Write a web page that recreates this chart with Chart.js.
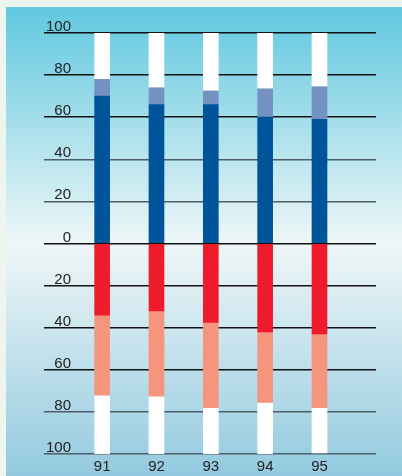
<!DOCTYPE html>
<html>
<head>
<meta charset="utf-8">
<script src="https://cdn.jsdelivr.net/npm/chart.js@4/dist/chart.umd.min.js"></script>
<style>
  html, body { margin: 0; padding: 0; background: #edf5ee; }
  #wrap { width: 402px; height: 476px; }
</style>
</head>
<body>
<div id="wrap"><canvas id="chart" width="402" height="476"></canvas></div>
<script>
// years along the bottom
const years = [91, 92, 93, 94, 95];
// upper half (stacked from 0 upwards)
const darkBlue = [70, 66, 66, 60, 59];
const lightBlue = [8, 8, 6.5, 13.5, 15.5];
const whiteTop = [22, 26, 27.5, 26.5, 25.5];
// lower half (stacked from 0 downwards)
const red = [-34, -32, -37.5, -42, -43];
const salmon = [-38, -40.5, -40.5, -33.5, -35];
const whiteBottom = [-28, -27.5, -22, -24.5, -21.5];
const yTicks = [100, 80, 60, 40, 20, 0, -20, -40, -60, -80, -100];

function pts(arr) {
    return years.map((y, i) => ({ x: y, y: arr[i] }));
}

const background = {
    id: 'background',
    beforeDraw(chart) {
        const ctx = chart.ctx;
        ctx.save();
        ctx.fillStyle = '#edf5ee';
        ctx.fillRect(0, 0, chart.width, chart.height);
        const g = ctx.createLinearGradient(0, 7, 0, chart.height);
        g.addColorStop(0, '#60c8e0');
        g.addColorStop(0.49, '#eaf5f6');
        g.addColorStop(0.51, '#eef6f7');
        g.addColorStop(1, '#93cadf');
        ctx.fillStyle = g;
        ctx.fillRect(6, 7, chart.width - 6, chart.height - 7);
        ctx.restore();
    }
};

// y labels sit above their grid line, right aligned
const yLabels = {
    id: 'yLabels',
    afterDraw(chart) {
        const ctx = chart.ctx;
        const y = chart.scales.y;
        ctx.save();
        ctx.font = '15px "Liberation Sans", Arial, sans-serif';
        ctx.fillStyle = '#222';
        ctx.textAlign = 'right';
        ctx.textBaseline = 'alphabetic';
        yTicks.forEach(v => {
            ctx.fillText(String(Math.abs(v)), 71, y.getPixelForValue(v) - 2);
        });
        ctx.restore();
    }
};

const darker = [100, 80, 60, 0, -20, -40, -60];

new Chart(document.getElementById('chart').getContext('2d'), {
    type: 'bar',
    data: {
        datasets: [
            { data: pts(darkBlue), backgroundColor: '#00549a', stack: 's' },
            { data: pts(lightBlue), backgroundColor: '#7593c2', stack: 's' },
            { data: pts(whiteTop), backgroundColor: '#ffffff', stack: 's' },
            { data: pts(red), backgroundColor: '#ee1b2d', stack: 's' },
            { data: pts(salmon), backgroundColor: '#f5957e', stack: 's' },
            { data: pts(whiteBottom), backgroundColor: '#ffffff', stack: 's' }
        ]
    },
    options: {
        responsive: false,
        animation: false,
        events: [],
        barThickness: 15,
        layout: { padding: { left: 44, right: 26, top: 33, bottom: -4 } },
        plugins: { legend: { display: false }, tooltip: { enabled: false } },
        scales: {
            x: {
                type: 'linear',
                stacked: true,
                offset: false,
                min: 89.93,
                max: 96.04,
                grid: { display: false, drawTicks: false, offset: false },
                border: { display: false },
                afterBuildTicks(scale) {
                    scale.ticks = years.map(v => ({ value: v }));
                },
                ticks: {
                    padding: 4,
                    color: '#222',
                    font: { family: '"Liberation Sans", Arial, sans-serif', size: 15 },
                    callback: v => String(v)
                }
            },
            y: {
                stacked: true,
                min: -100,
                max: 100,
                afterBuildTicks(scale) {
                    scale.ticks = yTicks.map(v => ({ value: v }));
                },
                grid: {
                    drawTicks: false,
                    lineWidth: 1.5,
                    color: ctx => darker.includes(ctx.tick.value) ? '#111' : '#4d5f66'
                },
                border: { display: false },
                ticks: { display: false }
            }
        }
    },
    plugins: [background, yLabels]
});
</script>
</body>
</html>
